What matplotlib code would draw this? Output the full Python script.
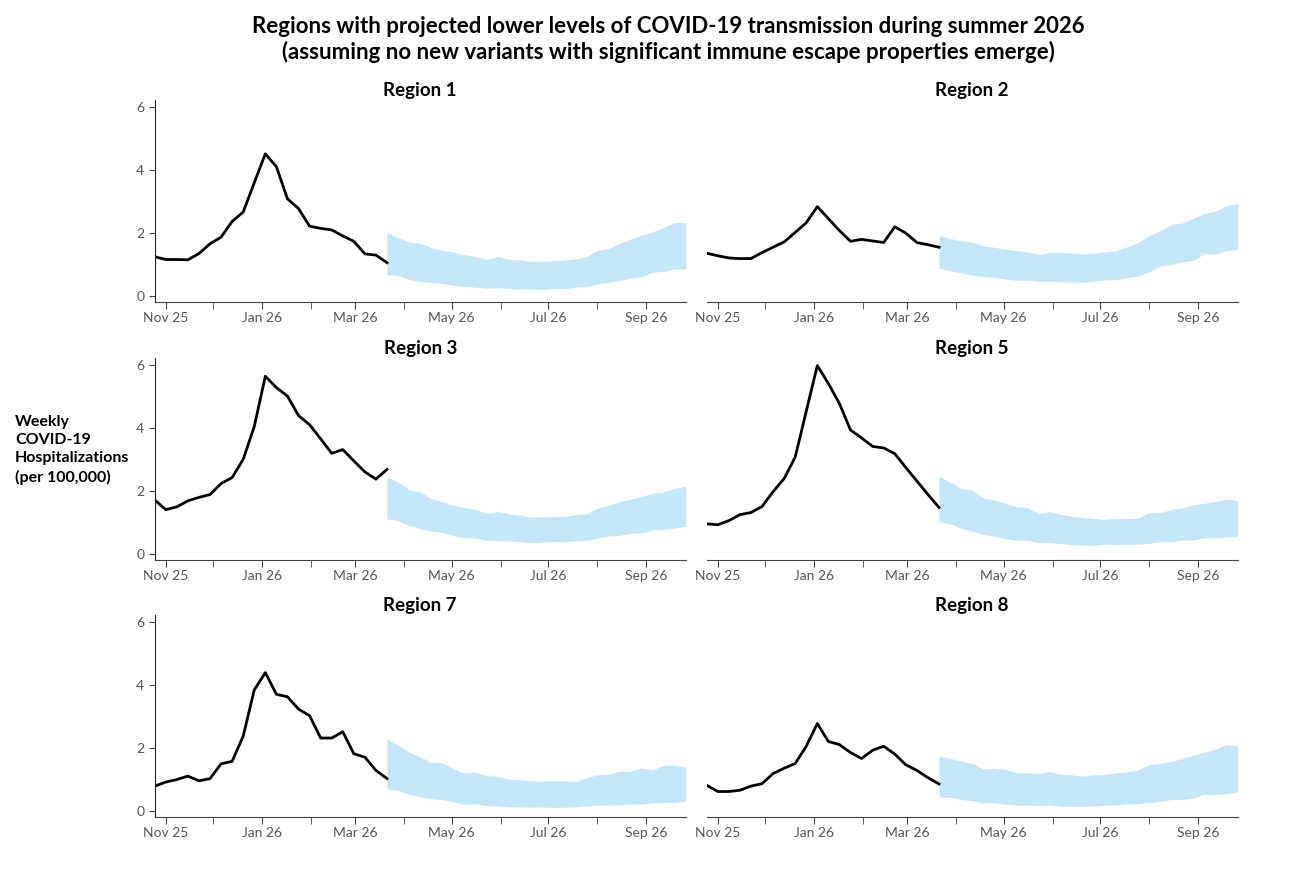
import numpy as np
import pandas as pd
import matplotlib
matplotlib.use("Agg")
import matplotlib.pyplot as plt
import matplotlib.dates as mdates

plt.rcParams['font.family'] = ['Lato', 'DejaVu Sans']

# weekly observed hospitalizations (Oct 25 2025 .. Mar 21 2026)
obs_dates = pd.date_range("2025-10-25", periods=22, freq="7D")
# projection band (Mar 21 2026 .. Sep 26 2026)
proj_dates = pd.date_range("2026-03-21", periods=28, freq="7D")

regions = ["Region 1", "Region 2", "Region 3", "Region 5", "Region 7", "Region 8"]

obs_r1 = [1.24, 1.15, 1.15, 1.14, 1.34, 1.65, 1.86, 2.36, 2.66, 3.59, 4.51, 4.10, 3.08, 2.77,
          2.21, 2.14, 2.09, 1.90, 1.73, 1.33, 1.29, 1.05]
lo_r1 = [0.67, 0.65, 0.51, 0.45, 0.42, 0.39, 0.33, 0.29, 0.27, 0.24, 0.25, 0.23, 0.21, 0.21,
         0.20, 0.23, 0.22, 0.27, 0.29, 0.37, 0.43, 0.48, 0.56, 0.60, 0.74, 0.77, 0.85, 0.85]
hi_r1 = [2.01, 1.85, 1.71, 1.67, 1.53, 1.44, 1.39, 1.30, 1.25, 1.15, 1.25, 1.15, 1.14, 1.09,
         1.09, 1.11, 1.13, 1.17, 1.24, 1.44, 1.50, 1.66, 1.80, 1.92, 2.03, 2.17, 2.32, 2.32]

obs_r2 = [1.35, 1.27, 1.20, 1.18, 1.18, 1.37, 1.54, 1.71, 2.01, 2.32, 2.83, 2.45, 2.07, 1.73,
          1.79, 1.74, 1.69, 2.19, 1.99, 1.69, 1.62, 1.54]
lo_r2 = [0.88, 0.79, 0.72, 0.65, 0.61, 0.58, 0.53, 0.49, 0.50, 0.46, 0.46, 0.46, 0.44, 0.43,
         0.46, 0.50, 0.51, 0.57, 0.63, 0.76, 0.95, 0.99, 1.08, 1.12, 1.34, 1.32, 1.43, 1.48]
hi_r2 = [1.92, 1.82, 1.74, 1.71, 1.58, 1.54, 1.48, 1.43, 1.39, 1.31, 1.37, 1.37, 1.35, 1.32,
         1.35, 1.39, 1.42, 1.56, 1.69, 1.92, 2.06, 2.27, 2.32, 2.46, 2.61, 2.69, 2.87, 2.93]

obs_r3 = [1.71, 1.40, 1.49, 1.68, 1.79, 1.88, 2.23, 2.42, 3.00, 4.04, 5.64, 5.28, 5.01, 4.39,
          4.10, 3.65, 3.19, 3.31, 2.95, 2.60, 2.37, 2.68]
lo_r3 = [1.11, 1.05, 0.89, 0.80, 0.72, 0.67, 0.58, 0.51, 0.51, 0.42, 0.42, 0.41, 0.38, 0.34,
         0.37, 0.39, 0.38, 0.41, 0.42, 0.49, 0.56, 0.58, 0.65, 0.66, 0.77, 0.77, 0.82, 0.87]
hi_r3 = [2.44, 2.29, 2.03, 1.96, 1.75, 1.65, 1.54, 1.47, 1.40, 1.28, 1.34, 1.27, 1.23, 1.16,
         1.17, 1.18, 1.18, 1.24, 1.27, 1.44, 1.54, 1.65, 1.73, 1.82, 1.92, 1.96, 2.07, 2.15]

obs_r5 = [0.95, 0.92, 1.05, 1.24, 1.31, 1.50, 1.97, 2.39, 3.07, 4.53, 5.98, 5.41, 4.77, 3.93,
          3.68, 3.41, 3.36, 3.18, 2.74, 2.31, 1.88, 1.47]
lo_r5 = [1.02, 0.95, 0.81, 0.72, 0.61, 0.56, 0.48, 0.42, 0.43, 0.35, 0.35, 0.32, 0.29, 0.27,
         0.27, 0.30, 0.29, 0.30, 0.30, 0.33, 0.38, 0.38, 0.43, 0.44, 0.51, 0.51, 0.53, 0.54]
hi_r5 = [2.46, 2.28, 2.07, 2.02, 1.77, 1.70, 1.61, 1.49, 1.47, 1.27, 1.34, 1.25, 1.19, 1.15,
         1.12, 1.09, 1.12, 1.12, 1.13, 1.31, 1.31, 1.40, 1.46, 1.56, 1.60, 1.66, 1.73, 1.69]

obs_r7 = [0.78, 0.91, 0.99, 1.10, 0.95, 1.02, 1.49, 1.57, 2.37, 3.84, 4.39, 3.70, 3.62, 3.23,
          3.02, 2.31, 2.31, 2.51, 1.81, 1.70, 1.28, 1.02]
lo_r7 = [0.68, 0.65, 0.52, 0.43, 0.38, 0.35, 0.29, 0.20, 0.22, 0.16, 0.15, 0.12, 0.12, 0.11,
         0.12, 0.10, 0.11, 0.12, 0.15, 0.17, 0.18, 0.19, 0.21, 0.21, 0.25, 0.26, 0.26, 0.31]
hi_r7 = [2.28, 2.08, 1.86, 1.71, 1.54, 1.52, 1.34, 1.19, 1.23, 1.11, 1.10, 0.99, 0.98, 0.95,
         0.94, 0.95, 0.95, 0.92, 1.05, 1.14, 1.16, 1.25, 1.25, 1.36, 1.30, 1.44, 1.45, 1.39]

obs_r8 = [0.81, 0.61, 0.61, 0.65, 0.78, 0.86, 1.18, 1.35, 1.50, 2.05, 2.77, 2.20, 2.10, 1.85,
          1.66, 1.92, 2.05, 1.80, 1.46, 1.28, 1.05, 0.85]
lo_r8 = [0.43, 0.42, 0.36, 0.32, 0.25, 0.25, 0.21, 0.18, 0.18, 0.16, 0.18, 0.14, 0.14, 0.14,
         0.15, 0.18, 0.18, 0.21, 0.22, 0.26, 0.30, 0.35, 0.36, 0.40, 0.52, 0.52, 0.54, 0.60]
hi_r8 = [1.73, 1.67, 1.57, 1.50, 1.33, 1.35, 1.31, 1.21, 1.20, 1.18, 1.25, 1.15, 1.14, 1.10,
         1.14, 1.15, 1.20, 1.24, 1.30, 1.47, 1.50, 1.57, 1.66, 1.77, 1.86, 1.96, 2.10, 2.07]

observed = [obs_r1, obs_r2, obs_r3, obs_r5, obs_r7, obs_r8]
lower = [lo_r1, lo_r2, lo_r3, lo_r5, lo_r7, lo_r8]
upper = [hi_r1, hi_r2, hi_r3, hi_r5, hi_r7, hi_r8]

band_color = '#c3e7f9'
tick_color = '#555555'

fig = plt.figure(figsize=(13.11, 8.71), dpi=100)
W, H = 1311, 871
lefts = [154.7, 706.7]
bottoms = [302, 560, 817]
aw, ah = 531, 202

for k, name in enumerate(regions):
    row, col = k // 2, k % 2
    ax = fig.add_axes([lefts[col] / W, 1 - bottoms[row] / H, aw / W, ah / H])
    ax.fill_between(proj_dates, lower[k], upper[k], color=band_color, linewidth=0)
    ax.plot(obs_dates, observed[k], color='black', lw=2)
    ax.set_xlim(obs_dates[0], proj_dates[-1])
    ax.set_ylim(-0.2, 6.22)
    ax.set_title(name, fontsize=13.5, fontweight='bold', pad=3)

    ax.xaxis.set_major_locator(mdates.MonthLocator(bymonth=[1, 3, 5, 7, 9, 11]))
    ax.xaxis.set_minor_locator(mdates.MonthLocator(bymonth=[2, 4, 6, 8, 10, 12]))
    ax.xaxis.set_major_formatter(mdates.DateFormatter('%b %y'))
    ax.tick_params(axis='x', which='both', length=5, color='#444444', labelsize=10,
                   labelcolor=tick_color, pad=2)

    for s in ['top', 'right']:
        ax.spines[s].set_visible(False)
    ax.spines['bottom'].set_color('#444444')
    if col == 0:
        ax.set_yticks([0, 2, 4, 6])
        ax.tick_params(axis='y', length=4, labelsize=10, labelcolor=tick_color, color='#444444')
        ax.spines['left'].set_color('#222222')
    else:
        ax.spines['left'].set_visible(False)
        ax.set_yticks([])

fig.text(0.51, 0.982, "Regions with projected lower levels of COVID-19 transmission during summer 2026\n"
         "(assuming no new variants with significant immune escape properties emerge)",
         ha='center', va='top', fontsize=16, fontweight='bold', linespacing=1.25)

fig.text(15 / W, 1 - 450 / H, "Weekly\nCOVID-19\nHospitalizations\n(per 100,000)",
         ha='left', va='center', fontsize=11.5, fontweight='bold', linespacing=1.4)

fig.savefig("out.png", dpi=100)
